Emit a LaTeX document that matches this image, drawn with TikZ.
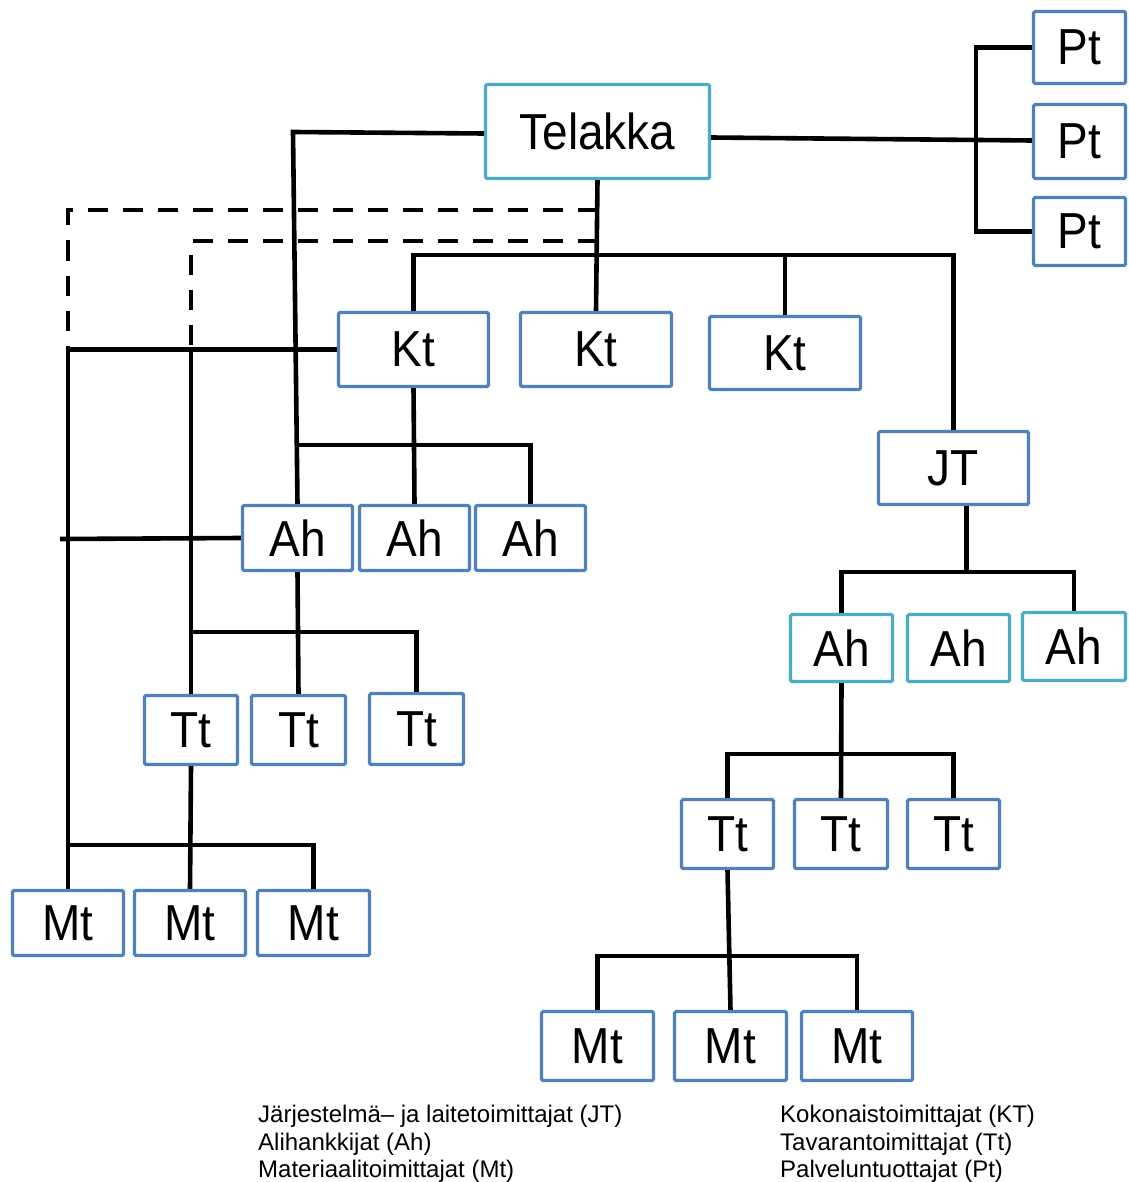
\documentclass[tikz,border=0pt]{standalone}
\usepackage{fontspec}
\setmainfont{Liberation Sans}
\definecolor{boxblue}{HTML}{4F81BD}
\definecolor{boxteal}{HTML}{4BACC6}
\newcommand{\blab}[1]{\scalebox{1}[1.1]{\fontsize{46}{50}\selectfont #1}}
\tikzset{
  bb/.style={draw=boxblue, line width=3.2pt, fill=white, rounded corners=1.5pt, inner sep=0pt},
  tb/.style={draw=boxteal, line width=3.2pt, fill=white, rounded corners=1.5pt, inner sep=0pt},
  conn/.style={line width=4.6pt, black},
  dconn/.style={line width=4.6pt, black, dash pattern=on 20pt off 15pt},
  leg/.style={anchor=base west, inner sep=0pt, font=\fontsize{24}{27}\selectfont}
}
\begin{document}
\begin{tikzpicture}[x=1pt,y=-1pt]
\useasboundingbox (0,0) rectangle (1128,1182);
% boxes
\node[tb, minimum width=224pt, minimum height=94pt] (tel) at (597.5,131.5) {\blab{Telakka}};
\node[bb, minimum width=92pt, minimum height=72pt] (pt1) at (1079.5,47.5) {\blab{Pt}};
\node[bb, minimum width=92pt, minimum height=74pt] (pt2) at (1079.5,141.5) {\blab{Pt}};
\node[bb, minimum width=92pt, minimum height=68pt] (pt3) at (1079.5,231.5) {\blab{Pt}};
\node[bb, minimum width=150pt, minimum height=74pt] (kt1) at (413.5,349.5) {\blab{Kt}};
\node[bb, minimum width=151pt, minimum height=74pt] (kt2) at (596,349.5) {\blab{Kt}};
\node[bb, minimum width=151pt, minimum height=73pt] (kt3) at (785,353) {\blab{Kt}};
\node[bb, minimum width=150pt, minimum height=73pt] (jt) at (953.5,468) {\blab{JT}};
\node[bb, minimum width=110pt, minimum height=65pt] (ah1) at (297.5,538) {\blab{Ah}};
\node[bb, minimum width=110pt, minimum height=65pt] (ah2) at (414.5,538) {\blab{Ah}};
\node[bb, minimum width=110pt, minimum height=65pt] (ah3) at (530.5,538) {\blab{Ah}};
\node[tb, minimum width=102pt, minimum height=67pt] (ahr1) at (841.5,648) {\blab{Ah}};
\node[tb, minimum width=102pt, minimum height=67pt] (ahr2) at (958.5,648) {\blab{Ah}};
\node[tb, minimum width=103pt, minimum height=68pt] (ahr3) at (1074,646.5) {\blab{Ah}};
\node[bb, minimum width=93pt, minimum height=69pt] (ttl1) at (191,730) {\blab{Tt}};
\node[bb, minimum width=94pt, minimum height=69pt] (ttl2) at (298.5,730) {\blab{Tt}};
\node[bb, minimum width=94pt, minimum height=71pt] (ttl3) at (416.5,729) {\blab{Tt}};
\node[bb, minimum width=92pt, minimum height=69pt] (ttr1) at (727.5,834) {\blab{Tt}};
\node[bb, minimum width=93pt, minimum height=69pt] (ttr2) at (841,834) {\blab{Tt}};
\node[bb, minimum width=92pt, minimum height=69pt] (ttr3) at (953.5,834) {\blab{Tt}};
\node[bb, minimum width=111pt, minimum height=65pt] (mtl1) at (68,923) {\blab{Mt}};
\node[bb, minimum width=111pt, minimum height=65pt] (mtl2) at (190,923) {\blab{Mt}};
\node[bb, minimum width=112pt, minimum height=65pt] (mtl3) at (313.5,923) {\blab{Mt}};
\node[bb, minimum width=112pt, minimum height=69pt] (mtr1) at (597.5,1046) {\blab{Mt}};
\node[bb, minimum width=112pt, minimum height=69pt] (mtr2) at (730.5,1046) {\blab{Mt}};
\node[bb, minimum width=111pt, minimum height=69pt] (mtr3) at (857,1046) {\blab{Mt}};
% helper coordinates
\coordinate (pb) at (976,0);
\coordinate (tl) at (293,132);
\coordinate (ktbar) at (0,255);
\coordinate (ahbar) at (0,445);
\coordinate (ttbar) at (0,632);
\coordinate (mtbar) at (0,845);
\coordinate (xo) at (68,0);
\coordinate (xi) at (191,0);
\coordinate (dho) at (0,210);
\coordinate (dhi) at (0,241);
\coordinate (ahl) at (60,539);
\coordinate (jtbar) at (0,572);
\coordinate (ttrbar) at (0,754);
\coordinate (mtrbar) at (0,956);
% dashed links
\draw[dconn] (tel.south |- dho) -- (xo |- dho) -- (xo |- kt1.west);
\draw[dconn] (tel.south |- dhi) -- (xi |- dhi) -- (xi |- kt1.west);
% connectors left side
\draw[conn] ([yshift=-2pt]tel.west) -- (tl) -- (ah1.north);
\draw[conn] (tel.south) -- (kt2.north);
\draw[conn] (kt1.north) -- (kt1.north |- ktbar) -- (jt.north |- ktbar) -- (jt.north);
\draw[conn] (kt3.north) -- (kt3.north |- ktbar);
\draw[conn] ([yshift=-6pt]tel.east) -- ([yshift=1pt]pt2.west);
\draw[conn] (pt1.west) -- (pt1.west -| pb) -- (pt3.west -| pb) -- (pt3.west);
\draw[conn] (kt1.west) -- (xo |- kt1.west) -- (mtl1.north);
\draw[conn] (xi |- kt1.west) -- (ttl1.north);
\draw[conn] (kt1.south) -- (ah2.north);
\draw[conn] (ah1.north |- ahbar) -- (ah3.north |- ahbar) -- (ah3.north);
\draw[conn] (ah1.west) -- (ahl);
\draw[conn] (ah1.south) -- (ttl2.north);
\draw[conn] (ttl1.north |- ttbar) -- (ttl3.north |- ttbar) -- (ttl3.north);
\draw[conn] (ttl1.south) -- (mtl2.north);
\draw[conn] (mtl1.north |- mtbar) -- (mtl3.north |- mtbar) -- (mtl3.north);
% right side
\draw[conn] ([xshift=13pt]jt.south) -- ([xshift=13pt]jt.south |- jtbar);
\draw[conn] (ahr1.north) -- (ahr1.north |- jtbar) -- (ahr3.north |- jtbar) -- (ahr3.north);
\draw[conn] (ahr1.south) -- (ttr2.north);
\draw[conn] (ttr1.north) -- (ttr1.north |- ttrbar) -- (ttr3.north |- ttrbar) -- (ttr3.north);
\draw[conn] (ttr1.south) -- (mtr2.north);
\draw[conn] (mtr1.north) -- (mtr1.north |- mtrbar) -- (mtr3.north |- mtrbar) -- (mtr3.north);
% legend
\node[leg] (l1) at (258,1122) {Järjestelmä– ja laitetoimittajat (JT)};
\node[leg] (l2) at (258,1150) {Alihankkijat (Ah)};
\node[leg] (l3) at (258,1177) {Materiaalitoimittajat (Mt)};
\node[leg] (r1) at (780,1122) {Kokonaistoimittajat (KT)};
\node[leg] (r2) at (780,1150) {Tavarantoimittajat (Tt)};
\node[leg] (r3) at (780,1177) {Palveluntuottajat (Pt)};
\end{tikzpicture}
\end{document}
